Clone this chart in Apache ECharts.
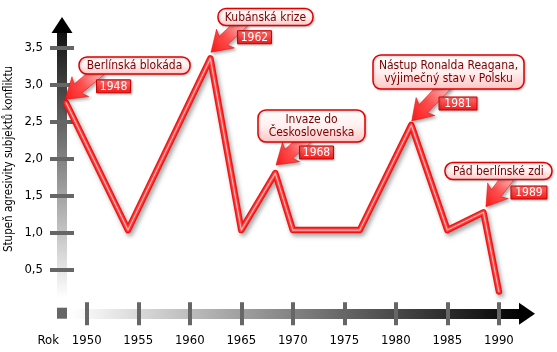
<!DOCTYPE html>
<html><head><meta charset="utf-8">
<script src="https://cdn.jsdelivr.net/npm/echarts@6/dist/echarts.min.js"></script>
<style>html,body{margin:0;padding:0;background:#fff}#c{width:557px;height:352px}</style>
</head><body><div id="c"></div>
<script>
// ---- data ----
const years = [1948, 1954, 1962, 1965, 1968.3, 1970, 1976.5, 1981.5, 1985, 1988.5, 1990];
const values = [2.75, 1.03, 3.35, 1.03, 1.8, 1.03, 1.03, 2.45, 1.03, 1.27, 0.2];
const yTickValues = [0.5, 1, 1.5, 2, 2.5, 3, 3.5];
const xTickValues = [1950, 1955, 1960, 1965, 1970, 1975, 1980, 1985, 1990];
const eventTitles = ['Berlínská blokáda', 'Kubánská krize', 'Invaze do\nČeskoslovenska', 'Nástup Ronalda Reagana,\nvýjimečný stav v Polsku', 'Pád berlínské zdi'];
const eventYears = ['1948', '1962', '1968', '1981', '1989'];
const eventPointIndex = [0, 2, 4, 7, 9];
const yAxisName = 'Stupeň agresivity subjektů konfliktu';
const xAxisName = 'Rok';

// ---- layout (offsets from the annotated data point, px) ----
const tipOff  = [[-1.1,-3.3],[0.6,-6.1],[0.7,-8.1],[0.4,-4],[2.5,-5.6]];
const tailOff = [[34,-32.8],[32.6,-36.4],[31.7,-35.1],[35.7,-41],[26.5,-37.3]];
const boxOff  = [[68.4,-37.3],[55.1,-41.4],[36.2,-47.1],[37.2,-53],[15,-41.3]];
const boxSize = [[111,17],[95,17],[107,32],[151,34],[107,17]];
const yearOff = [[47.4,-16.5],[44.1,-21.2],[41.2,-20.6],[46.7,-21.5],[45.5,-19.8]];
const yearSize = [[34,13],[34,13],[34,13],[38,13],[36,13]];

const X_MIN = 1947.6, X_MAX = 1992, Y_MIN = -0.1, Y_MAX = 3.7;
const FONT = '"DejaVu Sans Condensed", "DejaVu Sans", sans-serif';

const chart = echarts.init(document.getElementById('c'), null, {renderer: 'canvas'});
const lineData = years.map((y, i) => [y, values[i]]);

chart.setOption({
  animation: false,
  backgroundColor: '#fff',
  grid: {left: 62, right: 37.5, top: 32.5, bottom: 38.3, outerBoundsMode: 'none', containLabel: false},
  xAxis: [{
    type: 'value', min: X_MIN, max: X_MAX, position: 'bottom',
    axisLine: {show: true, onZero: false, lineStyle: {width: 10,
      color: new echarts.graphic.LinearGradient(0, 0, 1, 0, [{offset: 0.03, color: 'rgba(0,0,0,0)'}, {offset: 1, color: 'rgba(0,0,0,1)'}])}},
    axisTick: {show: false}, splitLine: {show: false},
    axisLabel: {customValues: xTickValues, margin: 20, fontSize: 13, color: '#000', fontFamily: FONT,
      formatter: v => String(v)}
  }, {
    type: 'value', min: X_MIN, max: X_MAX, position: 'bottom', offset: -11.5,
    axisLine: {show: false, onZero: false},
    axisTick: {show: true, customValues: xTickValues, length: 23, lineStyle: {color: '#666', width: 4}},
    axisLabel: {show: false}, splitLine: {show: false}
  }],
  yAxis: [{
    type: 'value', min: Y_MIN, max: Y_MAX, position: 'left',
    axisLine: {show: true, onZero: false, lineStyle: {width: 10,
      color: new echarts.graphic.LinearGradient(0, 0, 0, 1, [{offset: 0, color: 'rgba(0,0,0,0.95)'}, {offset: 0.93, color: 'rgba(0,0,0,0)'}])}},
    axisTick: {show: false}, splitLine: {show: false},
    axisLabel: {customValues: yTickValues, margin: 19, fontSize: 13, color: '#000', fontFamily: FONT,
      formatter: v => v.toFixed(1).replace('.', ',')}
  }, {
    type: 'value', min: Y_MIN, max: Y_MAX, position: 'left', offset: -12,
    axisLine: {show: false, onZero: false},
    axisTick: {show: true, customValues: yTickValues, length: 24, lineStyle: {color: '#666', width: 4}},
    axisLabel: {show: false}, splitLine: {show: false}
  }],
  series: [{
    type: 'line', data: lineData, symbol: 'none', z: 5, silent: true,
    lineStyle: {color: '#f01414', width: 6.5, cap: 'round', join: 'round',
      shadowColor: 'rgba(0,0,0,0.35)', shadowBlur: 4, shadowOffsetX: 2, shadowOffsetY: 3}
  }, {
    type: 'line', data: lineData, symbol: 'none', z: 6, silent: true,
    lineStyle: {color: '#ff3a3a', width: 3.8, cap: 'round', join: 'round'}
  }, {
    type: 'line', data: lineData, symbol: 'none', z: 7, silent: true,
    lineStyle: {color: 'rgba(255,185,185,0.95)', width: 1.2, cap: 'round', join: 'round'}
  }]
});

function px(v) { return chart.convertToPixel({xAxisIndex: 0, yAxisIndex: 0}, v); }

const G = [];
// axis arrows
const yTop = px([X_MIN, Y_MAX]);
G.push({type: 'polygon', z: 50, shape: {points: [[yTop[0], yTop[1] - 15.5], [yTop[0] + 10.5, yTop[1] + 0.5], [yTop[0] - 10.5, yTop[1] + 0.5]]}, style: {fill: '#000'}});
const xEnd = px([X_MAX, Y_MIN]);
G.push({type: 'polygon', z: 50, shape: {points: [[xEnd[0] + 15.5, xEnd[1]], [xEnd[0] - 0.5, xEnd[1] - 11], [xEnd[0] - 0.5, xEnd[1] + 11]]}, style: {fill: '#000'}});
// corner square
const origin = px([X_MIN, Y_MIN]);
G.push({type: 'rect', z: 50, shape: {x: origin[0] - 5, y: origin[1] - 6, width: 10, height: 11}, style: {fill: '#666'}});
// x axis name
G.push({type: 'text', z: 50, x: origin[0] - 3, y: origin[1] + 26.5,
  style: {text: xAxisName, fontSize: 13, fontFamily: FONT, fill: '#000', align: 'right', verticalAlign: 'middle'}});
// y axis name
G.push({type: 'text', z: 50, x: 9.5, y: 159, rotation: Math.PI / 2,
  style: {text: yAxisName, fontSize: 11.5, fontFamily: FONT, fill: '#000', align: 'center', verticalAlign: 'middle'}});

// annotations
eventPointIndex.forEach((idx, k) => {
  const p = px(lineData[idx]);
  const T = [p[0] + tipOff[k][0], p[1] + tipOff[k][1]];
  const A = [p[0] + tailOff[k][0], p[1] + tailOff[k][1]];
  const dx = T[0] - A[0], dy = T[1] - A[1], L = Math.hypot(dx, dy);
  const u = [dx / L, dy / L], n = [-u[1], u[0]];
  const H = 17, HW = 13, SW = 6, back = 3;
  const hb = [T[0] - u[0] * H, T[1] - u[1] * H];
  const pts = [
    T,
    [hb[0] + n[0] * HW - u[0] * back, hb[1] + n[1] * HW - u[1] * back],
    [hb[0] + n[0] * SW, hb[1] + n[1] * SW],
    [A[0] + n[0] * SW, A[1] + n[1] * SW],
    [A[0] - n[0] * SW, A[1] - n[1] * SW],
    [hb[0] - n[0] * SW, hb[1] - n[1] * SW],
    [hb[0] - n[0] * HW - u[0] * back, hb[1] - n[1] * HW - u[1] * back]
  ];
  G.push({type: 'polygon', z: 60, shape: {points: pts},
    style: {fill: new echarts.graphic.LinearGradient(A[0], A[1], T[0], T[1], [{offset: 0, color: '#ffc0c0'}, {offset: 0.5, color: '#ff5050'}, {offset: 1, color: '#ff1a1a'}], true),
      stroke: 'rgba(230,0,0,0.6)', lineWidth: 0.8,
      shadowColor: 'rgba(0,0,0,0.3)', shadowBlur: 3, shadowOffsetX: 2, shadowOffsetY: 2}});
  const bc = [p[0] + boxOff[k][0], p[1] + boxOff[k][1]];
  const bw = boxSize[k][0], bh = boxSize[k][1];
  G.push({type: 'rect', z: 61, shape: {x: bc[0] - bw / 2, y: bc[1] - bh / 2, width: bw, height: bh, r: 8},
    style: {fill: new echarts.graphic.LinearGradient(0, 0, 0, 1, [{offset: 0, color: '#ffffff'}, {offset: 0.5, color: '#fff0f0'}, {offset: 1, color: '#ffc4c4'}]),
      stroke: '#dd0000', lineWidth: 1.5, shadowColor: 'rgba(0,0,0,0.2)', shadowBlur: 2, shadowOffsetX: 1, shadowOffsetY: 1}});
  G.push({type: 'text', z: 62, x: bc[0], y: bc[1] + 0.5,
    style: {text: eventTitles[k], fontSize: 12, lineHeight: 13, fontFamily: FONT, fill: '#7a0000', align: 'center', verticalAlign: 'middle'}});
  const yc = [p[0] + yearOff[k][0], p[1] + yearOff[k][1]];
  const yw = yearSize[k][0], yh = yearSize[k][1];
  G.push({type: 'rect', z: 63, shape: {x: yc[0] - yw / 2, y: yc[1] - yh / 2, width: yw, height: yh},
    style: {fill: new echarts.graphic.LinearGradient(0, 0, 0, 1, [{offset: 0, color: '#ff7070'}, {offset: 1, color: '#f01818'}]),
      stroke: '#cc0000', lineWidth: 1, shadowColor: 'rgba(0,0,0,0.25)', shadowBlur: 2, shadowOffsetX: 1, shadowOffsetY: 1}});
  G.push({type: 'text', z: 64, x: yc[0], y: yc[1] + 0.5,
    style: {text: eventYears[k], fontSize: 12, fontFamily: FONT, fill: '#fff', align: 'center', verticalAlign: 'middle'}});
});

chart.setOption({graphic: {elements: G}});
</script>
</body></html>
